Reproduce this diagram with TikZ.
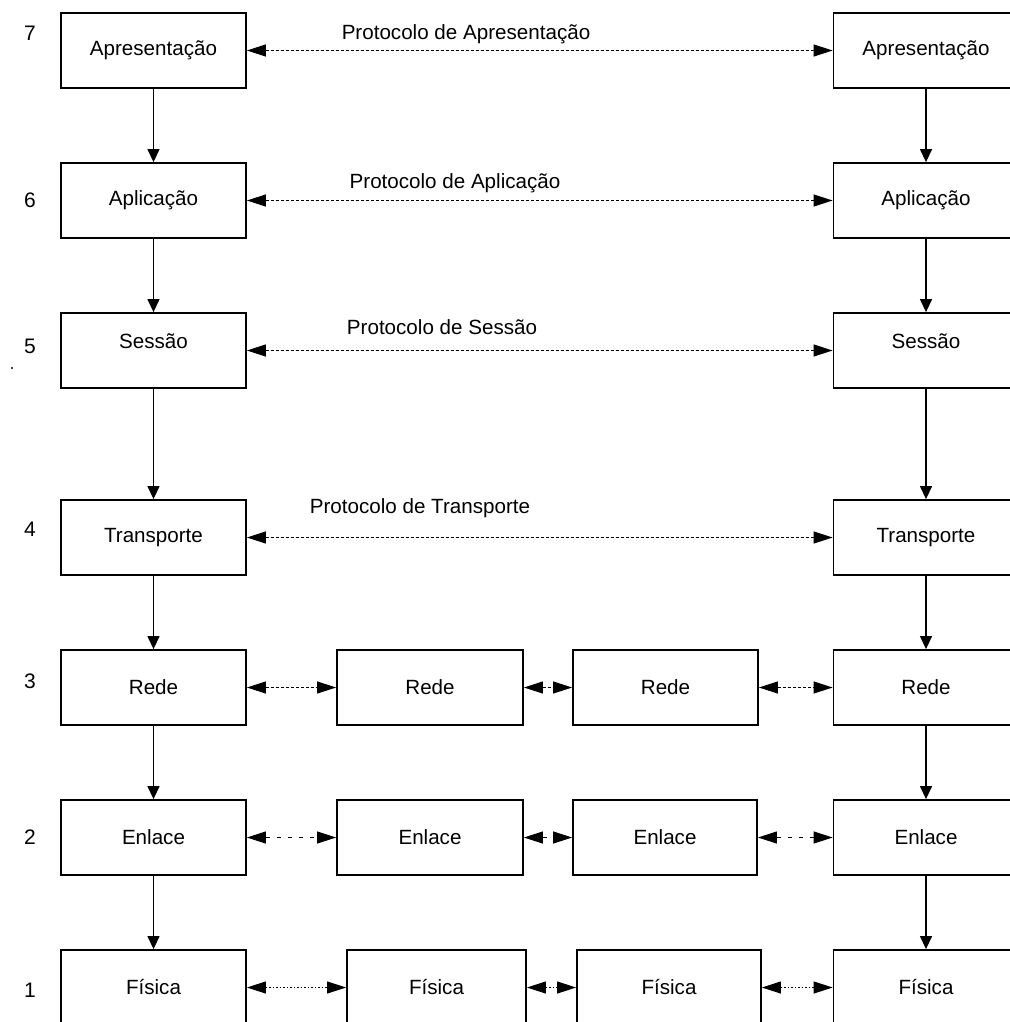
\documentclass[tikz,border=0pt]{standalone}
\usepackage{fontspec}
\setmainfont{Liberation Sans}
\usetikzlibrary{arrows.meta}
\begin{document}
\begin{tikzpicture}[x=1pt,y=-1pt,
  layer/.style={draw, line width=1.8pt, minimum height=75pt, inner sep=0pt,
                font=\fontsize{20.6}{24}\selectfont},
  side/.style={layer, minimum width=185pt},
  num/.style={font=\fontsize{21}{24}\selectfont, inner sep=0pt},
  proto/.style={font=\fontsize{20.6}{24}\selectfont, inner sep=0pt},
  down/.style={line width=1.3pt, -{Triangle[length=13pt,width=12pt]}},
  peer/.style={line width=1pt, dash pattern=on 3pt off 2pt,
               {Triangle[length=19pt,width=12pt]}-{Triangle[length=19pt,width=12pt]}},
  sparse/.style={peer, dash pattern=on 4pt off 7pt},
  dots/.style={peer, dash pattern=on 1.5pt off 2pt},
]
\useasboundingbox (0,0) rectangle (1009,1022);

% end-system stacks, left and right
\node[side] (L7) at (153.5,50.5)  {Apresentação};
\node[side] (L6) at (153.5,200.5) {Aplicação};
\node[side] (L5) at (153.5,350.5) {\raisebox{9pt}[\height][\depth]{Sessão}};
\node[side] (L4) at (153.5,537.5) {Transporte};
\node[side] (L3) at (153.5,687.5) {Rede};
\node[side] (L2) at (153.5,837.5) {Enlace};
\node[side] (L1) at (153.5,987.5) {Física};

\node[side] (R7) at (926,50.5)  {Apresentação};
\node[side] (R6) at (926,200.5) {Aplicação};
\node[side] (R5) at (926,350.5) {\raisebox{9pt}[\height][\depth]{Sessão}};
\node[side] (R4) at (926,537.5) {Transporte};
\node[side] (R3) at (926,687.5) {Rede};
\node[side] (R2) at (926,837.5) {Enlace};
\node[side] (R1) at (926,987.5) {Física};

% intermediate nodes (layers 1 to 3)
\node[layer, minimum width=186pt] (A3) at (430,687.5)   {Rede};
\node[layer, minimum width=185pt] (B3) at (665.5,687.5) {Rede};
\node[layer, minimum width=186pt] (A2) at (430,837.5)   {Enlace};
\node[layer, minimum width=184pt] (B2) at (665,837.5)   {Enlace};
\node[layer, minimum width=179pt] (A1) at (436.5,987.5) {Física};
\node[layer, minimum width=184pt] (B1) at (669,987.5)   {Física};

% layer numbers
\node[num] (n7) at (30,33)  {7};
\node[num] (n6) at (30,200) {6};
\node[num] (n5) at (30,346) {5};
\node[num] (n4) at (30,529) {4};
\node[num] (n3) at (30,681) {3};
\node[num] (n2) at (30,837) {2};
\node[num] (n1) at (30,990) {1};
\fill (12,368) circle (1.1pt);

% protocol names
\node[proto] (p7) at (466,34)  {Protocolo de Apresentação};
\node[proto] (p6) at (455,183) {Protocolo de Aplicação};
\node[proto] (p5) at (442,327) {Protocolo de Sessão};
\node[proto] (p4) at (420,508) {Protocolo de Transporte};

% peer-to-peer protocols
\draw[peer] (L7) -- (R7);
\draw[peer] (L6) -- (R6);
\draw[peer] (L5) -- (R5);
\draw[peer] (L4) -- (R4);
\draw[peer] (L3) -- (A3);
\draw[peer] (A3) -- (B3);
\draw[peer] (B3) -- (R3);
\draw[sparse] (L2) -- (A2);
\draw[sparse] (A2) -- (B2);
\draw[sparse] (B2) -- (R2);
\draw[dots] (L1) -- (A1);
\draw[dots] (A1) -- (B1);
\draw[dots] (B1) -- (R1);

% data flowing down each stack
\foreach \a/\b in {7/6,6/5,5/4,4/3,3/2,2/1}{
  \draw[down] (L\a) -- (L\b);
  \draw[down] (R\a) -- (R\b);
}
\end{tikzpicture}
\end{document}
